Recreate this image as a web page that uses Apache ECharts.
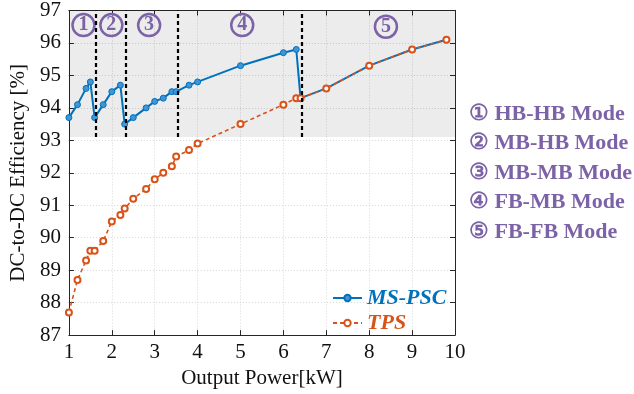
<!DOCTYPE html>
<html>
<head>
<meta charset="utf-8">
<script src="https://cdn.jsdelivr.net/npm/echarts@6/dist/echarts.min.js"></script>
<style>
  html, body { margin: 0; padding: 0; background: #fff; }
  #chart { width: 634px; height: 394px; }
</style>
</head>
<body>
<div id="chart"></div>
<script>
// Output power [kW]
const power = [1, 1.2, 1.4, 1.5, 1.6, 1.8, 2.0, 2.2, 2.3, 2.5, 2.8, 3.0, 3.2, 3.4, 3.5, 3.8, 4.0, 5.0, 6.0, 6.3, 6.4, 7, 8, 9, 9.8];
const msPsc = [93.7, 94.1, 94.6, 94.8, 93.7, 94.1, 94.5, 94.7, 93.5, 93.7, 94.0, 94.2, 94.3, 94.5, 94.5, 94.7, 94.8, 95.3, 95.7, 95.8, 94.3, 94.6, 95.3, 95.8, 96.1];
const tps = [87.7, 88.7, 89.3, 89.6, 89.6, 89.9, 90.5, 90.7, 90.9, 91.2, 91.5, 91.8, 92.0, 92.2, 92.5, 92.7, 92.9, 93.5, 94.1, 94.3, 94.3, 94.6, 95.3, 95.8, 96.1];

// mode boundaries and labels
const modeBounds = [1.63, 2.33, 3.53, 6.42];
const modeLabelX = [1.34, 1.99, 2.87, 5.04, 8.39];
const modeLabelY = [96.55, 96.55, 96.55, 96.55, 96.5];
const modeNums = ["1", "2", "3", "4", "5"];
const modeMarks = ["①", "②", "③", "④", "⑤"];
const modeNames = ["HB-HB Mode", "MB-HB Mode", "MB-MB Mode", "FB-MB Mode", "FB-FB Mode"];
const shadeBottom = 93.1;

const serif = "'Liberation Serif', 'DejaVu Serif', serif";
const purple = "#7c62a6";
const blue = "#0072BD";
const orange = "#D95319";

const chart = echarts.init(document.getElementById("chart"));

const axisLine = { show: true, lineStyle: { color: "#262626", width: 1 } };
const splitLine = { show: true, lineStyle: { color: "#d6d6d6", type: [1, 2], width: 1 } };

const option = {
  animation: false,
  backgroundColor: "#fff",
  grid: { left: 68, right: 179, top: 9, bottom: 55 },
  legend: {
    orient: "vertical",
    left: 327,
    top: 282,
    itemWidth: 29,
    itemHeight: 8,
    itemGap: 3,
    textStyle: { fontFamily: serif, fontSize: 22, fontStyle: "italic", fontWeight: "bold" },
    data: [
      { name: "MS-PSC", textStyle: { color: blue } },
      { name: "TPS", textStyle: { color: orange } }
    ]
  },
  xAxis: [
    {
      type: "value", min: 1, max: 10, interval: 1,
      name: "Output Power[kW]", nameLocation: "middle", nameGap: 28,
      nameTextStyle: { fontFamily: serif, fontSize: 21, color: "#111" },
      axisLine: axisLine,
      axisTick: { show: true, inside: true, length: 5, lineStyle: { color: "#262626" } },
      axisLabel: { fontFamily: serif, fontSize: 21, color: "#111", margin: 7 },
      splitLine: splitLine
    },
    {
      type: "value", position: "top", min: 1, max: 10, interval: 1,
      axisLine: axisLine,
      axisTick: { show: true, inside: true, length: 5, lineStyle: { color: "#262626" } },
      axisLabel: { show: false },
      splitLine: { show: false }
    }
  ],
  yAxis: [
    {
      type: "value", min: 87, max: 97, interval: 1,
      name: "DC-to-DC Efficiency [%]", nameLocation: "middle", nameGap: 37,
      nameTextStyle: { fontFamily: serif, fontSize: 21, color: "#111" },
      axisLine: axisLine,
      axisTick: { show: true, inside: true, length: 5, lineStyle: { color: "#262626" } },
      axisLabel: { fontFamily: serif, fontSize: 21, color: "#111", margin: 8 },
      splitLine: splitLine
    },
    {
      type: "value", position: "right", min: 87, max: 97, interval: 1,
      axisLine: axisLine,
      axisTick: { show: true, inside: true, length: 5, lineStyle: { color: "#262626" } },
      axisLabel: { show: false },
      splitLine: { show: false }
    }
  ],
  series: [
    {
      name: "shade",
      type: "line",
      data: [],
      silent: true,
      markArea: {
        silent: true,
        itemStyle: { color: "rgba(0,0,0,0.075)" },
        data: [[{ coord: [1, shadeBottom] }, { coord: [10, 97] }]]
      },
      markLine: {
        silent: true,
        symbol: "none",
        label: { show: false },
        lineStyle: { color: "#000", type: [4, 3], width: 2.2 },
        data: modeBounds.map(x => [{ coord: [x, shadeBottom] }, { coord: [x, 97] }])
      }
    },
    {
      name: "TPS",
      type: "line",
      data: power.map((p, i) => [p, tps[i]]),
      symbol: "emptyCircle",
      symbolSize: 6,
      color: orange,
      lineStyle: { color: orange, width: 1.6, type: [4, 3] },
      itemStyle: { color: orange, borderWidth: 1.3 },
      z: 3
    },
    {
      name: "MS-PSC",
      type: "line",
      data: power.map((p, i) => [p, msPsc[i]]),
      symbol: "circle",
      symbolSize: 6,
      color: blue,
      lineStyle: { color: blue, width: 2 },
      itemStyle: { color: "#3f95d6", borderColor: blue, borderWidth: 1 },
      z: 2
    },
    {
      name: "modes",
      type: "scatter",
      symbolSize: 0,
      silent: true,
      itemStyle: { opacity: 1 },
      data: modeLabelX.map((x, i) => [x, modeLabelY[i]]),
      label: {
        show: true,
        position: "inside",
        formatter: p => "{c|" + modeNums[p.dataIndex] + "}",
        rich: {
          c: {
            fontFamily: serif,
            fontWeight: "bold",
            fontSize: 20,
            color: purple,
            width: 20,
            height: 20,
            lineHeight: 22,
            align: "center",
            borderColor: purple,
            borderWidth: 2.5,
            borderRadius: 12,
            padding: [1, 1, 1, 1]
          }
        }
      },
      z: 4
    }
  ],
  graphic: modeNames.map((name, i) => ({
    type: "text",
    left: 469,
    top: 103 + i * 29.6,
    style: {
      text: modeMarks[i] + " " + name,
      font: "bold 22px " + serif,
      fill: purple
    }
  }))
};

chart.setOption(option);
</script>
</body>
</html>
